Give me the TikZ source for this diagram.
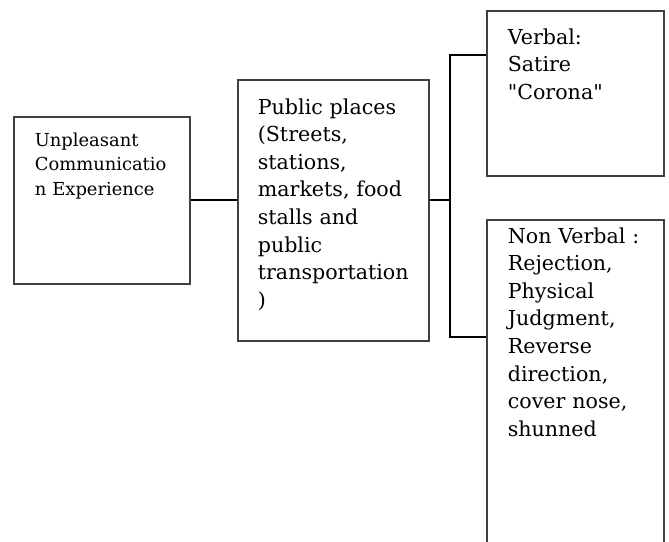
\documentclass[tikz,border=0pt]{standalone}
\usepackage{fontspec}
\setmainfont{DejaVu Serif}[Ligatures=TeXOff]
\begin{document}
\begin{tikzpicture}[
        x=1pt, y=-1pt,
        box/.style={draw=black!75, line width=1.5pt, inner sep=0pt,
            anchor=north west},
        label/.style={anchor=base west, inner sep=0pt, align=left,
            text width=170pt, font=\fontsize{20.6}{27.6}\selectfont},
        small/.style={label, font=\fontsize{17.9}{24.5}\selectfont},
        every path/.style={line width=1.7pt}
    ]
        \useasboundingbox (0,0) rectangle (669,541);
        \node[box, minimum width=176pt, minimum height=167pt] (unpl) at (13,116) {};
        \node[box, minimum width=191pt, minimum height=261pt] (pub) at (237,79) {};
        \node[box, minimum width=177pt, minimum height=165pt] (verb) at (486,10) {};
        \node[box, minimum width=177pt, minimum height=340pt] (nonverb) at (486,219) {};
        \node[small] (unpltext) at (34,146)
            {Unpleasant\\Communicatio\\n Experience};
        \node[label] (pubtext) at (257,114)
            {Public places\\(Streets,\\stations,\\markets, food\\stalls and\\public\\transportation\\)};
        \node[label] (verbtext) at (507,44)
            {Verbal:\\Satire\\"Corona"};
        \node[label] (nonverbtext) at (507,243)
            {Non Verbal :\\Rejection,\\Physical\\Judgment,\\Reverse\\direction,\\cover nose,\\shunned};
        \coordinate (forktop) at (450,55);
        \coordinate (forkbot) at (450,337);
        \draw (unpl.east) -- (unpl.east -| pub.west);
        \draw (pub.east |- unpl.east) -- (forktop |- unpl.east);
        \draw (verb.west |- forktop) -- (forktop) -- (forkbot) -- (nonverb.west |- forkbot);
    \end{tikzpicture}
\end{document}
